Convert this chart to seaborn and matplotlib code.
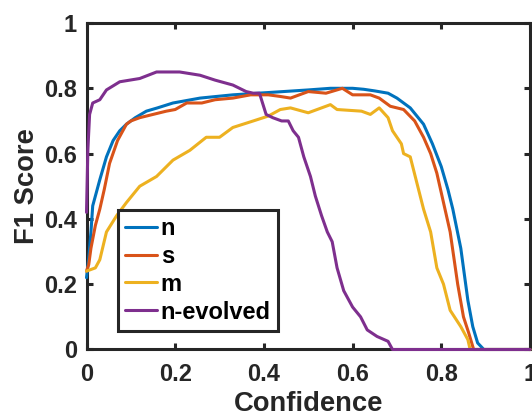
import matplotlib
matplotlib.use("Agg")
import matplotlib.pyplot as plt
import seaborn as sns
import pandas as pd

# ---------------- data ----------------
labels = ["n", "s", "m", "n-evolved"]
colors = ["#0072BD", "#D95319", "#EDB120", "#7E2F8E"]

n_x = [0, 0.005, 0.01, 0.014, 0.03, 0.045, 0.06, 0.075, 0.09, 0.11, 0.135, 0.16, 0.195,
       0.256, 0.33, 0.41, 0.5, 0.55, 0.6, 0.625, 0.65, 0.68, 0.7, 0.73, 0.76, 0.78, 0.80,
       0.815, 0.826, 0.844, 0.86, 0.871, 0.882, 0.896, 1.0]
n_y = [0.22, 0.28, 0.36, 0.44, 0.52, 0.59, 0.64, 0.67, 0.69, 0.71, 0.73, 0.74, 0.755,
       0.77, 0.78, 0.787, 0.795, 0.80, 0.80, 0.797, 0.792, 0.785, 0.77, 0.74, 0.69, 0.63, 0.56,
       0.49, 0.43, 0.31, 0.15, 0.07, 0.02, 0.0, 0.0]

s_x = [0, 0.005, 0.01, 0.02, 0.03, 0.04, 0.052, 0.07, 0.09, 0.1, 0.12, 0.15, 0.18, 0.2,
       0.226, 0.26, 0.29, 0.33, 0.37, 0.41, 0.437, 0.46, 0.48, 0.50, 0.54, 0.577, 0.60,
       0.64, 0.66, 0.685, 0.715, 0.74, 0.76, 0.776, 0.79, 0.80, 0.82, 0.837, 0.85, 0.862,
       0.873, 1.0]
s_y = [0.24, 0.26, 0.31, 0.38, 0.43, 0.49, 0.57, 0.64, 0.69, 0.70, 0.71, 0.72, 0.73, 0.735,
       0.755, 0.755, 0.765, 0.77, 0.78, 0.78, 0.775, 0.77, 0.78, 0.79, 0.785, 0.80, 0.78,
       0.78, 0.77, 0.745, 0.735, 0.70, 0.65, 0.60, 0.54, 0.48, 0.36, 0.20, 0.10, 0.05,
       0.0, 0.0]

m_x = [0, 0.01, 0.02, 0.03, 0.045, 0.068, 0.09, 0.12, 0.158, 0.195, 0.233, 0.27, 0.30,
       0.33, 0.376, 0.41, 0.437, 0.46, 0.50, 0.55, 0.565, 0.62, 0.64, 0.66, 0.68, 0.69,
       0.71, 0.715, 0.73, 0.745, 0.76, 0.776, 0.79, 0.805, 0.82, 0.844, 0.86, 0.865, 1.0]
m_y = [0.24, 0.245, 0.25, 0.275, 0.36, 0.41, 0.45, 0.50, 0.53, 0.58, 0.61, 0.65, 0.65,
       0.68, 0.70, 0.715, 0.735, 0.74, 0.725, 0.75, 0.735, 0.73, 0.72, 0.74, 0.71, 0.67,
       0.63, 0.60, 0.59, 0.51, 0.43, 0.36, 0.25, 0.20, 0.12, 0.07, 0.03, 0.0, 0.0]

e_x = [0, 0.003, 0.007, 0.014, 0.03, 0.045, 0.075, 0.12, 0.158, 0.21, 0.256, 0.29, 0.33,
       0.36, 0.376, 0.39, 0.405, 0.42, 0.44, 0.455, 0.466, 0.478, 0.49, 0.505, 0.516, 0.53,
       0.543, 0.554, 0.565, 0.58, 0.60, 0.618, 0.633, 0.655, 0.68, 0.69, 1.0]
e_y = [0.42, 0.61, 0.72, 0.755, 0.765, 0.795, 0.82, 0.83, 0.85, 0.85, 0.84, 0.825, 0.81,
       0.79, 0.785, 0.785, 0.72, 0.71, 0.70, 0.70, 0.67, 0.65, 0.59, 0.53, 0.47, 0.41,
       0.36, 0.33, 0.25, 0.18, 0.13, 0.10, 0.06, 0.04, 0.025, 0.0, 0.0]

ticks = [0, 0.2, 0.4, 0.6, 0.8, 1]
tick_labels = ["0", "0.2", "0.4", "0.6", "0.8", "1"]

# ---------------- plot ----------------
sns.set_style("white")
plt.rcParams["font.family"] = ["Liberation Sans", "DejaVu Sans"]
plt.rcParams["font.weight"] = "bold"

dark = "#262626"
fig = plt.figure(figsize=(5.32, 4.19), dpi=100)
ax = fig.add_axes([0.1626, 0.1659, 0.8336, 0.7792])

series = [(n_x, n_y), (s_x, s_y), (m_x, m_y), (e_x, e_y)]
for (xs, ys), lab, col in zip(series, labels, colors):
    df = pd.DataFrame({"Confidence": xs, "F1": ys})
    sns.lineplot(data=df, x="Confidence", y="F1", ax=ax, color=col, linewidth=2.2,
                 label=lab, sort=False, estimator=None, clip_on=False, zorder=3)

ax.set_xlim(0, 1)
ax.set_ylim(0, 1)
ax.set_xticks(ticks)
ax.set_xticklabels(tick_labels)
ax.set_yticks(ticks)
ax.set_yticklabels(tick_labels)
ax.tick_params(axis="both", which="both", direction="in", length=4, width=2.2,
               color=dark, labelcolor=dark, labelsize=17, top=True, right=True,
               bottom=True, left=True)
ax.tick_params(axis="x", pad=10)
ax.tick_params(axis="y", pad=7)
for sp in ax.spines.values():
    sp.set_visible(True)
    sp.set_color(dark)
    sp.set_linewidth(2.2)

ax.set_xlabel("Confidence", fontsize=19.7, fontweight="bold", color=dark, labelpad=3.5)
ax.set_ylabel("F1 Score", fontsize=19.7, fontweight="bold", color=dark, labelpad=3)

leg = ax.legend(loc="upper left", bbox_to_anchor=(0.07, 0.428), fontsize=17,
                frameon=True, fancybox=False, edgecolor=dark, framealpha=1,
                handlelength=1.36, handletextpad=0.17, labelspacing=0.21,
                borderpad=0.3, borderaxespad=0)
leg.get_frame().set_linewidth(2.2)
for t in leg.get_texts():
    t.set_color("black")
    t.set_fontweight("bold")
for h in leg.get_lines():
    h.set_linewidth(2.2)

fig.savefig("out.png", dpi=100)
